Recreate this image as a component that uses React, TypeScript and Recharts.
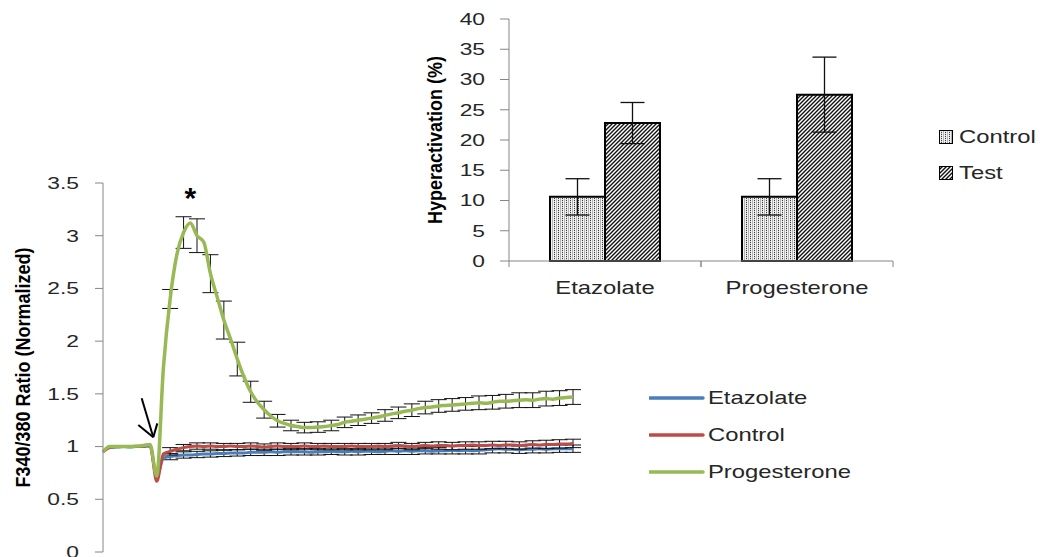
import {
  LineChart,
  Line,
  BarChart,
  Bar,
  XAxis,
  YAxis,
  ErrorBar,
  ReferenceLine,
  ReferenceDot,
  Legend,
} from 'recharts';

// Normalized F340/F380 traces, one value per sample
const etazolateRatio = [
  0.95, 0.99, 0.995, 1.0, 0.995, 1.0, 1.0, 1.005, 0.71, 0.89,
  0.905, 0.915, 0.92, 0.92, 0.925, 0.93, 0.93, 0.935, 0.935, 0.94,
  0.94, 0.94, 0.945, 0.945, 0.945, 0.95, 0.945, 0.95, 0.95, 0.95,
  0.95, 0.945, 0.95, 0.95, 0.955, 0.95, 0.95, 0.955, 0.95, 0.955,
  0.955, 0.95, 0.955, 0.96, 0.955, 0.96, 0.955, 0.96, 0.96, 0.955,
  0.96, 0.96, 0.965, 0.96, 0.965, 0.96, 0.965, 0.97, 0.975, 0.98,
  0.975, 0.975, 0.97, 0.975, 0.975, 0.98, 0.975, 0.98, 0.98, 0.98, 0.98,
];
const controlRatio = [
  0.95, 0.99, 1.0, 1.0, 1.0, 1.0, 1.005, 1.015, 0.67, 0.93,
  0.955, 0.975, 0.99, 1.0, 1.005, 1.0, 1.005, 1.0, 1.0, 1.005,
  1.0, 1.0, 1.005, 1.0, 0.995, 1.0, 1.005, 1.0, 1.0, 1.0,
  1.005, 1.0, 1.0, 1.005, 1.0, 1.0, 1.0, 1.005, 1.0, 1.0,
  1.0, 1.005, 1.0, 1.005, 1.01, 1.005, 1.0, 1.005, 1.01, 1.005,
  1.01, 1.01, 1.005, 1.01, 1.01, 1.015, 1.01, 1.01, 1.015, 1.01,
  1.015, 1.015, 1.01, 1.015, 1.02, 1.015, 1.02, 1.02, 1.025, 1.025, 1.03,
];
const progesteroneRatio = [
  0.95, 1.0, 1.0, 1.0, 1.0, 1.005, 1.01, 1.02, 0.72, 1.75,
  2.4, 2.82, 3.03, 3.12, 3.0, 2.94, 2.64, 2.42, 2.2, 2.02,
  1.83, 1.66, 1.52, 1.42, 1.35, 1.29, 1.245, 1.22, 1.2, 1.19,
  1.18, 1.18, 1.185, 1.19, 1.2, 1.21, 1.23, 1.24, 1.25, 1.26,
  1.27, 1.28, 1.295, 1.31, 1.32, 1.335, 1.345, 1.36, 1.37, 1.375,
  1.385, 1.39, 1.395, 1.4, 1.405, 1.41, 1.415, 1.41, 1.42, 1.43,
  1.43, 1.435, 1.44, 1.445, 1.44, 1.45, 1.455, 1.45, 1.46, 1.465, 1.47,
];
const traceNames = ['Etazolate', 'Control', 'Progesterone'];

// samples that carry an SEM bar, and the SEM at each of them
const semSamples = [
  10, 12, 14, 16, 18, 20, 22, 24, 26, 28, 30, 32, 34, 36, 38, 40,
  42, 44, 46, 48, 50, 52, 54, 56, 58, 60, 62, 64, 66, 68, 70,
];
const etazolateSem = [
  0.03, 0.03, 0.03, 0.03, 0.03, 0.03, 0.03, 0.03, 0.03, 0.03, 0.03,
  0.03, 0.03, 0.03, 0.03, 0.03, 0.03, 0.03, 0.03, 0.03, 0.03,
  0.035, 0.035, 0.035, 0.035, 0.035, 0.035, 0.035, 0.035, 0.035, 0.035,
];
const controlSem = [
  0.035, 0.03, 0.03, 0.03, 0.03, 0.03, 0.03, 0.03, 0.03, 0.03, 0.03,
  0.03, 0.03, 0.03, 0.03, 0.03, 0.03, 0.03, 0.03, 0.03, 0.035,
  0.035, 0.035, 0.035, 0.035, 0.035, 0.035, 0.035, 0.04, 0.04, 0.04,
];
const progesteroneSem = [
  0.09, 0.15, 0.16, 0.18, 0.18, 0.16, 0.1, 0.08, 0.06, 0.05, 0.05,
  0.05, 0.05, 0.05, 0.05, 0.05, 0.055, 0.055, 0.06, 0.06, 0.06,
  0.06, 0.06, 0.065, 0.065, 0.065, 0.07, 0.07, 0.07, 0.07, 0.07,
];
const ratioTicks = [0, 0.5, 1, 1.5, 2, 2.5, 3, 3.5];

// arrow marking the addition, in (sample, ratio) units
const arrowSegments = [
  [{ x: 5.76, y: 1.458 }, { x: 7.49, y: 1.088 }],
  [{ x: 5.26, y: 1.205 }, { x: 7.49, y: 1.088 }],
  [{ x: 8.09, y: 1.22 }, { x: 7.49, y: 1.088 }],
];

// hyperactivation inset
const treatments = ['Etazolate', 'Progesterone'];
const hyperControl = [10.6, 10.6];
const hyperTest = [22.8, 27.5];
const hyperControlSem = [3.0, 3.0];
const hyperTestSem = [3.4, 6.2];
const hyperTicks = [0, 5, 10, 15, 20, 25, 30, 35, 40];

const traceData = progesteroneRatio.map((p, i) => {
  const k = semSamples.indexOf(i);
  return {
    t: i,
    etazolate: etazolateRatio[i],
    control: controlRatio[i],
    progesterone: p,
    etazolateSem: k >= 0 ? etazolateSem[k] : null,
    controlSem: k >= 0 ? controlSem[k] : null,
    progesteroneSem: k >= 0 ? progesteroneSem[k] : null,
  };
});

const hyperData = treatments.map((name, i) => ({
  name,
  control: hyperControl[i],
  test: hyperTest[i],
  controlSem: hyperControlSem[i],
  testSem: hyperTestSem[i],
}));

const FONT = "'Liberation Sans', Arial, sans-serif";
const TEXT = '#262626';
const AXIS = '#868686';

// text is drawn wide, like the rest of the figure
const NumTick = (props: any) => {
  const { x, y, payload } = props;
  return (
    <text
      transform={`translate(${x},${y}) scale(1.4,1)`}
      textAnchor="end"
      dy="0.36em"
      fontSize={16.3}
      fontFamily={FONT}
      fill={TEXT}
    >
      {payload.value}
    </text>
  );
};

const CategoryTick = (props: any) => {
  const { x, y, payload } = props;
  const half = 96;
  return (
    <g>
      <line x1={x - half} x2={x - half} y1={y} y2={y + 6} stroke={AXIS} />
      <line x1={x + half} x2={x + half} y1={y} y2={y + 6} stroke={AXIS} />
      <text
        transform={`translate(${x},${y + 26}) scale(1.28,1)`}
        textAnchor="middle"
        dy="0.36em"
        fontSize={18.6}
        fontFamily={FONT}
        fill={TEXT}
      >
        {payload.value}
      </text>
    </g>
  );
};

const axisTitle = (text: string, dx: number) => (props: any) => {
  const { viewBox } = props;
  const cx = viewBox.x + dx;
  const cy = viewBox.y + viewBox.height / 2;
  return (
    <text
      transform={`translate(${cx},${cy}) rotate(-90) scale(1,1.15)`}
      textAnchor="middle"
      dominantBaseline="central"
      fontSize={18}
      fontWeight={700}
      fontFamily={FONT}
      fill="#000"
    >
      {text}
    </text>
  );
};

const wideLabel: React.CSSProperties = {
  display: 'inline-block',
  transform: 'scaleX(1.28)',
  transformOrigin: '0 50%',
  fontSize: 18.6,
  fontFamily: FONT,
  color: TEXT,
  whiteSpace: 'nowrap',
};

const TraceLegend = (props: any) => {
  const items = [...props.payload].sort(
    (a: any, b: any) => traceNames.indexOf(a.value) - traceNames.indexOf(b.value),
  );
  return (
    <div>
      {items.map((entry: any) => (
        <div key={entry.value} style={{ display: 'flex', alignItems: 'center', height: 37 }}>
          <svg width={56} height={8} style={{ marginRight: 3 }}>
            <line x1={1} y1={4} x2={54} y2={4} stroke={entry.color} strokeWidth={3.5} strokeLinecap="round" />
          </svg>
          <span style={wideLabel}>{entry.value}</span>
        </div>
      ))}
    </div>
  );
};

const BarLegend = (props: any) => (
  <div>
    {props.payload.map((entry: any) => (
      <div key={entry.value} style={{ display: 'flex', alignItems: 'center', height: 36.5 }}>
        <svg width={14} height={14} style={{ marginRight: 6 }}>
          <rect x={0.5} y={0.5} width={13} height={13} fill={entry.color} stroke="#000" strokeWidth={1} />
        </svg>
        <span style={wideLabel}>{entry.value}</span>
      </div>
    ))}
  </div>
);

export default function App() {
  return (
    <div
      style={{
        position: 'absolute',
        left: 0,
        top: 0,
        width: 1043,
        height: 557,
        overflow: 'hidden',
        background: '#fff',
      }}
    >
      <div style={{ position: 'absolute', left: 0, top: 0 }}>
        <LineChart
          width={880}
          height={580}
          data={traceData}
          margin={{ top: 183, right: 307, bottom: 28, left: 0 }}
        >
          <XAxis dataKey="t" type="number" domain={[0, 70]} hide />
          <YAxis
            width={103}
            domain={[0, 3.5]}
            ticks={ratioTicks}
            interval={0}
            stroke={AXIS}
            tickSize={8}
            tickMargin={16}
            tick={<NumTick />}
            label={{ content: axisTitle('F340/380 Ratio (Normalized)', 23) }}
          />
          <Line
            dataKey="etazolate"
            name={traceNames[0]}
            type="monotone"
            stroke="#4a7ebb"
            strokeWidth={3}
            dot={false}
            activeDot={false}
            isAnimationActive={false}
          >
            <ErrorBar dataKey="etazolateSem" direction="y" width={8} stroke="#111" strokeWidth={1} />
          </Line>
          <Line
            dataKey="control"
            name={traceNames[1]}
            type="monotone"
            stroke="#be4b48"
            strokeWidth={3}
            dot={false}
            activeDot={false}
            isAnimationActive={false}
          >
            <ErrorBar dataKey="controlSem" direction="y" width={8} stroke="#111" strokeWidth={1} />
          </Line>
          <Line
            dataKey="progesterone"
            name={traceNames[2]}
            type="monotone"
            stroke="#98b954"
            strokeWidth={3.5}
            dot={false}
            activeDot={false}
            isAnimationActive={false}
          >
            <ErrorBar dataKey="progesteroneSem" direction="y" width={8} stroke="#111" strokeWidth={1} />
          </Line>
          {arrowSegments.map((seg, i) => (
            <ReferenceLine key={i} segment={seg} stroke="#000" strokeWidth={2} />
          ))}
          <ReferenceDot
            x={13}
            y={3.36}
            r={1}
            fill="none"
            stroke="none"
            label={{ value: '*', position: 'center', fontSize: 30, fontWeight: 700, fill: '#000', fontFamily: FONT }}
          />
          <Legend
            layout="horizontal"
            verticalAlign="middle"
            align="center"
            content={<TraceLegend />}
            wrapperStyle={{ left: 649, top: 379.5, width: 240 }}
          />
        </LineChart>
      </div>

      <div style={{ position: 'absolute', left: 0, top: 0 }}>
        <BarChart
          width={1043}
          height={300}
          data={hyperData}
          barGap={0}
          margin={{ top: 19, right: 150, bottom: 0, left: 420 }}
        >
          <defs>
            <pattern id="dotFill" width={4} height={2} patternUnits="userSpaceOnUse">
              <rect width={4} height={2} fill="#f2f2f2" />
              <rect x={0} y={0} width={1} height={2} fill="#b5b5b5" />
              <rect x={2} y={0} width={1} height={1} fill="#3a3a3a" />
              <rect x={2} y={1} width={1} height={1} fill="#d8d8d8" />
            </pattern>
            <pattern id="hatchFill" width={4} height={4} patternUnits="userSpaceOnUse">
              <rect width={4} height={4} fill="#fff" />
              <path d="M-1,1 l2,-2 M0,4 l4,-4 M3,5 l2,-2" stroke="#111" strokeWidth={1.4} />
            </pattern>
          </defs>
          <XAxis
            dataKey="name"
            stroke={AXIS}
            tickLine={false}
            tickSize={0}
            tickMargin={0}
            height={39}
            tick={<CategoryTick />}
          />
          <YAxis
            width={89}
            domain={[0, 40]}
            ticks={hyperTicks}
            interval={0}
            stroke={AXIS}
            tickSize={9}
            tickMargin={15}
            tick={<NumTick />}
            label={{ content: axisTitle('Hyperactivation (%)', 15) }}
          />
          <Bar
            dataKey="control"
            name="Control"
            fill="url(#dotFill)"
            stroke="#000"
            strokeWidth={2}
            barSize={55}
            isAnimationActive={false}
          >
            <ErrorBar dataKey="controlSem" direction="y" width={12} stroke="#111" strokeWidth={1.3} />
          </Bar>
          <Bar
            dataKey="test"
            name="Test"
            fill="url(#hatchFill)"
            stroke="#000"
            strokeWidth={2}
            barSize={55}
            isAnimationActive={false}
          >
            <ErrorBar dataKey="testSem" direction="y" width={12} stroke="#111" strokeWidth={1.3} />
          </Bar>
          <Legend
            layout="horizontal"
            verticalAlign="middle"
            align="center"
            content={<BarLegend />}
            wrapperStyle={{ left: 939, top: 118.5, width: 110 }}
          />
        </BarChart>
      </div>
    </div>
  );
}
